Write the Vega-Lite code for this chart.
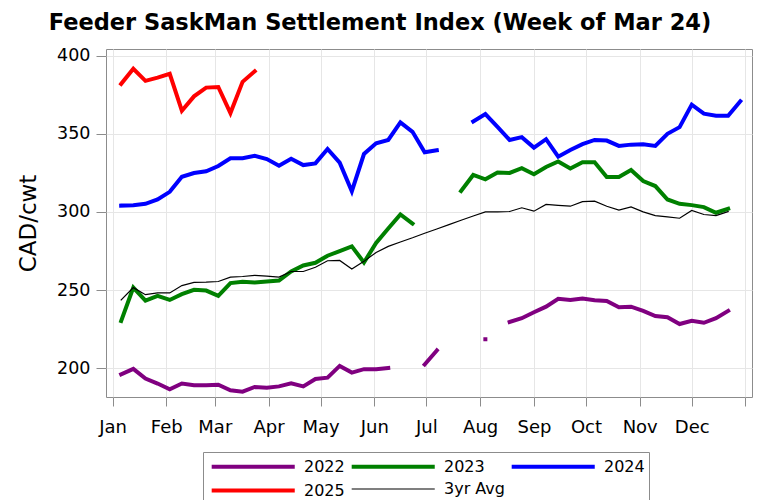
{
  "$schema": "https://vega.github.io/schema/vega-lite/v6.json",
  "width": 646,
  "height": 348,
  "autosize": {"type": "none"},
  "padding": {"left": 106, "top": 49, "right": 7, "bottom": 103},
  "title": {
    "text": "Feeder SaskMan Settlement Index (Week of Mar 24)",
    "font": "DejaVu Sans",
    "fontWeight": "bold",
    "fontSize": 22.5,
    "color": "#000000",
    "anchor": "middle",
    "frame": "group",
    "dx": -49,
    "dy": 23.5,
    "baseline": "alphabetic",
    "offset": 18
  },
  "config": {
    "font": "DejaVu Sans",
    "view": {"stroke": "#8c8c8c", "strokeWidth": 1}
  },
  "data": {
    "values": [
      {"week": "2001-01-06", "2022": 196.1, "2023": 230.2, "2024": 304.1, "2025": 382.0, "3yr Avg": 243.7},
      {"week": "2001-01-13", "2022": 199.6, "2023": 251.6, "2024": 304.3, "2025": 391.6, "3yr Avg": 251.6},
      {"week": "2001-01-20", "2022": 193.4, "2023": 243.3, "2024": 305.2, "2025": 383.9, "3yr Avg": 247.1},
      {"week": "2001-01-27", "2022": 190.2, "2023": 246.3, "2024": 308.0, "2025": 386.0, "3yr Avg": 248.2},
      {"week": "2001-02-03", "2022": 186.5, "2023": 243.7, "2024": 312.9, "2025": 388.4, "3yr Avg": 248.2},
      {"week": "2001-02-10", "2022": 190.2, "2023": 247.4, "2024": 322.5, "2025": 364.8, "3yr Avg": 252.9},
      {"week": "2001-02-17", "2022": 189.1, "2023": 250.2, "2024": 324.9, "2025": 374.0, "3yr Avg": 254.9},
      {"week": "2001-02-24", "2022": 189.1, "2023": 249.7, "2024": 326.0, "2025": 379.6, "3yr Avg": 255.1},
      {"week": "2001-03-03", "2022": 189.5, "2023": 246.3, "2024": 329.4, "2025": 380.0, "3yr Avg": 255.5},
      {"week": "2001-03-10", "2022": 185.9, "2023": 254.5, "2024": 334.4, "2025": 363.3, "3yr Avg": 258.3},
      {"week": "2001-03-17", "2022": 185.0, "2023": 255.3, "2024": 334.4, "2025": 383.3, "3yr Avg": 258.7},
      {"week": "2001-03-24", "2022": 188.0, "2023": 254.9, "2024": 336.0, "2025": 390.0, "3yr Avg": 259.4},
      {"week": "2001-03-31", "2022": 187.6, "2023": 255.5, "2024": 333.9, "2025": null, "3yr Avg": 259.0},
      {"week": "2001-04-07", "2022": 188.4, "2023": 256.1, "2024": 329.6, "2025": null, "3yr Avg": 258.3},
      {"week": "2001-04-14", "2022": 190.4, "2023": 261.9, "2024": 334.1, "2025": null, "3yr Avg": 261.9},
      {"week": "2001-04-21", "2022": 188.4, "2023": 265.8, "2024": 330.0, "2025": null, "3yr Avg": 261.9},
      {"week": "2001-04-28", "2022": 193.1, "2023": 267.5, "2024": 331.1, "2025": null, "3yr Avg": 264.6},
      {"week": "2001-05-05", "2022": 194.0, "2023": 272.0, "2024": 340.3, "2025": null, "3yr Avg": 268.8},
      {"week": "2001-05-12", "2022": 201.5, "2023": 275.0, "2024": 331.6, "2025": null, "3yr Avg": 269.0},
      {"week": "2001-05-19", "2022": 197.2, "2023": 278.0, "2024": 313.3, "2025": null, "3yr Avg": 263.5},
      {"week": "2001-05-26", "2022": 199.4, "2023": 267.7, "2024": 337.1, "2025": null, "3yr Avg": 268.4},
      {"week": "2001-06-02", "2022": 199.4, "2023": 280.2, "2024": 344.0, "2025": null, "3yr Avg": 274.1},
      {"week": "2001-06-09", "2022": 200.2, "2023": 289.4, "2024": 346.1, "2025": null, "3yr Avg": 278.0},
      {"week": "2001-06-16", "2022": null, "2023": 298.4, "2024": 357.3, "2025": null, "3yr Avg": 280.8},
      {"week": "2001-06-23", "2022": null, "2023": 292.6, "2024": 351.3, "2025": null, "3yr Avg": 283.5},
      {"week": "2001-06-30", "2022": 202.4, "2023": null, "2024": 338.2, "2025": null, "3yr Avg": 286.4},
      {"week": "2001-07-07", "2022": 211.4, "2023": null, "2024": 339.5, "2025": null, "3yr Avg": 289.1},
      {"week": "2001-07-14", "2022": null, "2023": null, "2024": null, "2025": null, "3yr Avg": 291.9},
      {"week": "2001-07-21", "2022": null, "2023": 313.4, "2024": null, "2025": null, "3yr Avg": 294.7},
      {"week": "2001-07-28", "2022": null, "2023": 323.7, "2024": 357.9, "2025": null, "3yr Avg": 297.4},
      {"week": "2001-08-04", "2022": 218.5, "2023": 320.9, "2024": 362.7, "2025": null, "3yr Avg": 300.1},
      {"week": "2001-08-11", "2022": null, "2023": 325.2, "2024": 354.5, "2025": null, "3yr Avg": 300.1},
      {"week": "2001-08-18", "2022": 229.6, "2023": 325.0, "2024": 346.1, "2025": null, "3yr Avg": 300.3},
      {"week": "2001-08-25", "2022": 232.0, "2023": 328.0, "2024": 347.9, "2025": null, "3yr Avg": 302.7},
      {"week": "2001-09-01", "2022": 235.8, "2023": 324.1, "2024": 341.2, "2025": null, "3yr Avg": 300.5},
      {"week": "2001-09-08", "2022": 239.4, "2023": 328.8, "2024": 346.6, "2025": null, "3yr Avg": 304.8},
      {"week": "2001-09-15", "2022": 244.4, "2023": 332.3, "2024": 335.4, "2025": null, "3yr Avg": 304.2},
      {"week": "2001-09-22", "2022": 243.7, "2023": 327.8, "2024": 339.7, "2025": null, "3yr Avg": 303.7},
      {"week": "2001-09-29", "2022": 244.6, "2023": 331.8, "2024": 343.4, "2025": null, "3yr Avg": 306.6},
      {"week": "2001-10-06", "2022": 243.5, "2023": 331.8, "2024": 346.1, "2025": null, "3yr Avg": 306.9},
      {"week": "2001-10-13", "2022": 243.1, "2023": 322.4, "2024": 345.7, "2025": null, "3yr Avg": 303.7},
      {"week": "2001-10-20", "2022": 239.0, "2023": 322.4, "2024": 342.3, "2025": null, "3yr Avg": 301.2},
      {"week": "2001-10-27", "2022": 239.4, "2023": 326.9, "2024": 343.1, "2025": null, "3yr Avg": 303.3},
      {"week": "2001-11-03", "2022": 236.7, "2023": 319.8, "2024": 343.4, "2025": null, "3yr Avg": 300.1},
      {"week": "2001-11-10", "2022": 233.4, "2023": 316.6, "2024": 342.3, "2025": null, "3yr Avg": 297.7},
      {"week": "2001-11-17", "2022": 232.6, "2023": 308.0, "2024": 350.0, "2025": null, "3yr Avg": 296.9},
      {"week": "2001-11-24", "2022": 228.3, "2023": 305.2, "2024": 354.3, "2025": null, "3yr Avg": 296.0},
      {"week": "2001-12-01", "2022": 230.4, "2023": 304.4, "2024": 368.7, "2025": null, "3yr Avg": 301.0},
      {"week": "2001-12-08", "2022": 229.1, "2023": 303.1, "2024": 362.9, "2025": null, "3yr Avg": 298.4},
      {"week": "2001-12-15", "2022": 232.0, "2023": 299.5, "2024": 361.6, "2025": null, "3yr Avg": 297.7},
      {"week": "2001-12-22", "2022": 236.7, "2023": 302.1, "2024": 361.6, "2025": null, "3yr Avg": 300.3},
      {"week": "2001-12-29", "2022": null, "2023": null, "2024": 370.8, "2025": null, "3yr Avg": null}
    ]
  },
  "transform": [
    {"fold": ["2022", "2023", "2024", "2025", "3yr Avg"], "as": ["series", "price"]}
  ],
  "mark": {"type": "line", "strokeCap": "square", "strokeJoin": "miter"},
  "encoding": {
    "x": {
      "field": "week",
      "type": "temporal",
      "scale": {
        "type": "utc",
        "domain": [
          {"year": 2000, "month": 12, "date": 28, "hours": 6, "utc": true},
          {"year": 2002, "month": 1, "date": 4, "hours": 18, "utc": true}
        ],
        "nice": false
      },
      "axis": {
        "title": null,
        "tickCount": {"interval": "month", "step": 1},
        "labelExpr": "utcyear(datum.value) > 2001 ? '' : utcFormat(datum.value, '%b')",
        "labelFontSize": 18,
        "labelColor": "#000000",
        "labelPadding": 12,
        "tickSize": 9,
        "tickColor": "#8c8c8c",
        "domain": false,
        "grid": true,
        "gridColor": "#e6e6e6",
        "labelOverlap": false,
        "labelFlush": false
      }
    },
    "y": {
      "field": "price",
      "type": "quantitative",
      "scale": {"domain": [181.6, 404.3], "nice": false, "zero": false},
      "axis": {
        "title": "CAD/cwt",
        "titleFontSize": 23,
        "titleFontWeight": "normal",
        "titleColor": "#000000",
        "titlePadding": 16,
        "values": [200, 250, 300, 350, 400],
        "labelFontSize": 17.5,
        "labelColor": "#000000",
        "labelPadding": 6,
        "tickSize": 10,
        "tickColor": "#8c8c8c",
        "domain": false,
        "grid": true,
        "gridColor": "#e6e6e6"
      }
    },
    "color": {
      "field": "series",
      "type": "nominal",
      "scale": {
        "domain": ["2022", "2023", "2024", "2025", "3yr Avg"],
        "range": ["#800080", "#008000", "#0000ff", "#ff0000", "#000000"]
      },
      "legend": {
        "title": null,
        "orient": "none",
        "legendX": 97,
        "legendY": 403,
        "direction": "horizontal",
        "columns": 3,
        "symbolType": "M-0.7,0H9.3",
        "symbolSize": 276,
        "labelFontSize": 16,
        "labelColor": "#000000",
        "labelOffset": 76,
        "columnPadding": -2,
        "rowPadding": 5,
        "padding": 4,
        "strokeColor": "#8c8c8c",
        "labelLimit": 200
      }
    },
    "strokeWidth": {
      "field": "series",
      "type": "nominal",
      "scale": {
        "type": "ordinal",
        "domain": ["2022", "2023", "2024", "2025", "3yr Avg"],
        "range": [4, 4, 4, 4, 1.2]
      },
      "legend": {
        "title": null,
        "orient": "none",
        "legendX": 97,
        "legendY": 403,
        "direction": "horizontal",
        "columns": 3,
        "symbolType": "M-0.7,0H9.3",
        "symbolSize": 276,
        "labelFontSize": 16,
        "labelColor": "#000000",
        "labelOffset": 76,
        "columnPadding": -2,
        "rowPadding": 5,
        "padding": 4,
        "strokeColor": "#8c8c8c",
        "labelLimit": 200
      }
    }
  }
}
